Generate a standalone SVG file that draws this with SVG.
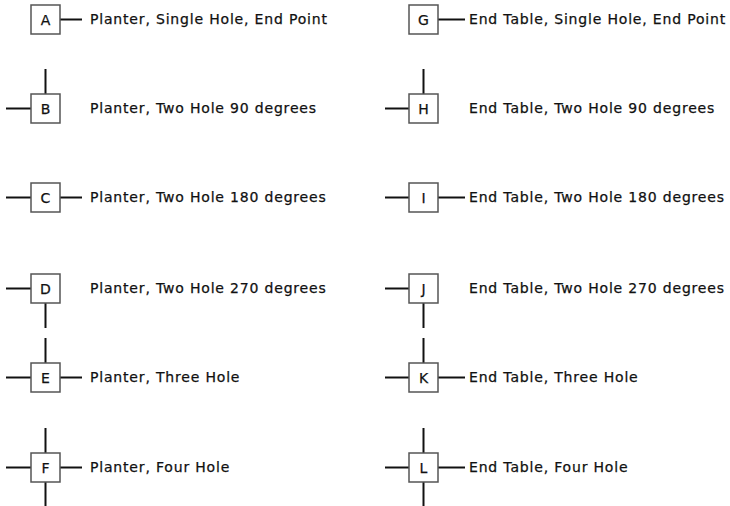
<svg xmlns="http://www.w3.org/2000/svg" width="730" height="506" viewBox="0 0 730 506">
<style>
.box{fill:#fff;stroke:#555;stroke-width:1.5}
.lbl{font-family:"DejaVu Sans",Verdana,sans-serif;font-size:14px;letter-spacing:0.82px;fill:#111;stroke:#111;stroke-width:0.25}
.key{font-family:"DejaVu Sans",Verdana,sans-serif;font-size:14px;fill:#111;stroke:#111;stroke-width:0.25;text-anchor:middle}
.c line{stroke:#111;stroke-width:2}
</style>
<rect width="730" height="506" fill="#fff"/>
<g class="c" id="connectors">
<line x1="60" y1="19.5" x2="82" y2="19.5"/>
<line x1="45.5" y1="69" x2="45.5" y2="94"/>
<line x1="6" y1="108.5" x2="31" y2="108.5"/>
<line x1="6" y1="197.5" x2="31" y2="197.5"/>
<line x1="60" y1="197.5" x2="82" y2="197.5"/>
<line x1="6" y1="288.5" x2="31" y2="288.5"/>
<line x1="45.5" y1="303" x2="45.5" y2="328"/>
<line x1="45.5" y1="338" x2="45.5" y2="363"/>
<line x1="6" y1="377.5" x2="31" y2="377.5"/>
<line x1="60" y1="377.5" x2="82" y2="377.5"/>
<line x1="45.5" y1="428" x2="45.5" y2="453"/>
<line x1="6" y1="467.5" x2="31" y2="467.5"/>
<line x1="60" y1="467.5" x2="82" y2="467.5"/>
<line x1="45.5" y1="482" x2="45.5" y2="506"/>
<line x1="438" y1="19.5" x2="465" y2="19.5"/>
<line x1="423.5" y1="69" x2="423.5" y2="94"/>
<line x1="385" y1="108.5" x2="409" y2="108.5"/>
<line x1="385" y1="197.5" x2="409" y2="197.5"/>
<line x1="438" y1="197.5" x2="465" y2="197.5"/>
<line x1="385" y1="288.5" x2="409" y2="288.5"/>
<line x1="423.5" y1="303" x2="423.5" y2="328"/>
<line x1="423.5" y1="338" x2="423.5" y2="363"/>
<line x1="385" y1="377.5" x2="409" y2="377.5"/>
<line x1="438" y1="377.5" x2="465" y2="377.5"/>
<line x1="423.5" y1="428" x2="423.5" y2="453"/>
<line x1="385" y1="467.5" x2="409" y2="467.5"/>
<line x1="438" y1="467.5" x2="465" y2="467.5"/>
<line x1="423.5" y1="482" x2="423.5" y2="506"/>
</g>
<g id="A"><rect class="box" x="31" y="5" width="29" height="29"/><text class="key" x="45.5" y="25">A</text><text class="lbl" x="90" y="24">Planter, Single Hole, End Point</text></g>
<g id="B"><rect class="box" x="31" y="94" width="29" height="29"/><text class="key" x="45.5" y="114">B</text><text class="lbl" x="90" y="113">Planter, Two Hole 90 degrees</text></g>
<g id="C"><rect class="box" x="31" y="183" width="29" height="29"/><text class="key" x="45.5" y="203">C</text><text class="lbl" x="90" y="202">Planter, Two Hole 180 degrees</text></g>
<g id="D"><rect class="box" x="31" y="274" width="29" height="29"/><text class="key" x="45.5" y="294">D</text><text class="lbl" x="90" y="293">Planter, Two Hole 270 degrees</text></g>
<g id="E"><rect class="box" x="31" y="363" width="29" height="29"/><text class="key" x="45.5" y="383">E</text><text class="lbl" x="90" y="382">Planter, Three Hole</text></g>
<g id="F"><rect class="box" x="31" y="453" width="29" height="29"/><text class="key" x="45.5" y="473">F</text><text class="lbl" x="90" y="472">Planter, Four Hole</text></g>
<g id="G"><rect class="box" x="409" y="5" width="29" height="29"/><text class="key" x="423.5" y="25">G</text><text class="lbl" x="469" y="24">End Table, Single Hole, End Point</text></g>
<g id="H"><rect class="box" x="409" y="94" width="29" height="29"/><text class="key" x="423.5" y="114">H</text><text class="lbl" x="469" y="113">End Table, Two Hole 90 degrees</text></g>
<g id="I"><rect class="box" x="409" y="183" width="29" height="29"/><text class="key" x="423.5" y="203">I</text><text class="lbl" x="469" y="202">End Table, Two Hole 180 degrees</text></g>
<g id="J"><rect class="box" x="409" y="274" width="29" height="29"/><text class="key" x="423.5" y="294">J</text><text class="lbl" x="469" y="293">End Table, Two Hole 270 degrees</text></g>
<g id="K"><rect class="box" x="409" y="363" width="29" height="29"/><text class="key" x="423.5" y="383">K</text><text class="lbl" x="469" y="382">End Table, Three Hole</text></g>
<g id="L"><rect class="box" x="409" y="453" width="29" height="29"/><text class="key" x="423.5" y="473">L</text><text class="lbl" x="469" y="472">End Table, Four Hole</text></g>
</svg>
